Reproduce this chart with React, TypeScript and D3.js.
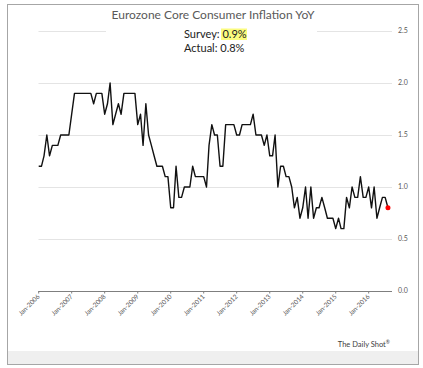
import React, { useEffect, useRef } from "react";
import * as d3 from "d3";

const width = 423;
const height = 368;
const plotLeft = 38.5;
const plotRight = 392;
const yTop = 31;
const yBottom = 291;

const title = "Eurozone Core Consumer Inflation YoY";
const surveyValue = "0.9%";
const actualValue = "0.8%";

// monthly, Jan-2006 .. Aug-2016
const coreYoY = [
  1.2, 1.2, 1.3, 1.5, 1.3, 1.4, 1.4, 1.4, 1.5, 1.5, 1.5, 1.5,
  1.7, 1.9, 1.9, 1.9, 1.9, 1.9, 1.9, 1.9, 1.8, 1.9, 1.9, 1.9,
  1.7, 1.8, 2.0, 1.6, 1.7, 1.8, 1.7, 1.9, 1.9, 1.9, 1.9, 1.9,
  1.6, 1.7, 1.4, 1.8, 1.5, 1.4, 1.3, 1.2, 1.2, 1.2, 1.1, 1.1,
  0.8, 0.8, 1.2, 0.9, 0.9, 1.0, 1.0, 1.0, 1.2, 1.1, 1.1, 1.1,
  1.1, 1.0, 1.4, 1.6, 1.5, 1.5, 1.2, 1.2, 1.6, 1.6, 1.6, 1.6,
  1.5, 1.5, 1.6, 1.6, 1.6, 1.6, 1.7, 1.5, 1.5, 1.5, 1.4, 1.5,
  1.3, 1.3, 1.5, 1.0, 1.2, 1.2, 1.1, 1.1, 1.0, 0.8, 0.9, 0.7,
  0.8, 1.0, 0.7, 1.0, 0.7, 0.8, 0.8, 0.9, 0.8, 0.7, 0.7, 0.7,
  0.6, 0.7, 0.6, 0.6, 0.9, 0.8, 1.0, 0.9, 0.9, 1.1, 0.9, 0.9,
  1.0, 0.8, 1.0, 0.7, 0.8, 0.9, 0.9, 0.8,
];
const startYear = 2006;
const tickYears = [2006, 2007, 2008, 2009, 2010, 2011, 2012, 2013, 2014, 2015, 2016];
const yTicks = [0, 0.5, 1.0, 1.5, 2.0, 2.5];

export default function App() {
  const ref = useRef<SVGSVGElement>(null);

  useEffect(() => {
    const svg = d3.select(ref.current);
    svg.selectAll("*").remove();

    const data = coreYoY.map((v, i) => ({ date: new Date(startYear, i, 1), value: v }));

    const x = d3
      .scaleTime()
      .domain([new Date(2006, 0, 1), new Date(2016, 0, 1)])
      .range([38.7, 368.7]);
    const y = d3.scaleLinear().domain([0, 2.5]).range([yBottom, yTop]);

    // frame
    svg.append("rect").attr("width", width).attr("height", height).attr("fill", "#fff");
    svg
      .append("rect")
      .attr("x", 8)
      .attr("y", 351)
      .attr("width", 410.5)
      .attr("height", 13)
      .attr("fill", "#efefef");
    svg
      .append("rect")
      .attr("x", 7.5)
      .attr("y", 4.5)
      .attr("width", 411)
      .attr("height", 360)
      .attr("fill", "none")
      .attr("stroke", "#a6a6a6");

    // gridlines + right labels
    const grid = svg.append("g");
    grid
      .selectAll("line")
      .data(yTicks.filter(d => d > 0))
      .join("line")
      .attr("x1", plotLeft)
      .attr("x2", plotRight)
      .attr("y1", d => Math.round(y(d)) + 0.5)
      .attr("y2", d => Math.round(y(d)) + 0.5)
      .attr("stroke", "#e4e4e4")
      .attr("stroke-width", 1.2);

    svg
      .append("g")
      .attr("font-family", "Lato, sans-serif")
      .attr("font-size", 7)
      .attr("fill", "#595959")
      .selectAll("text")
      .data(yTicks)
      .join("text")
      .attr("x", 398)
      .attr("y", d => y(d))
      .attr("dy", "0.35em")
      .text(d => d3.format(".1f")(d));

    // x axis
    const ax = svg.append("g");
    ax.append("line")
      .attr("x1", plotLeft)
      .attr("x2", plotRight)
      .attr("y1", yBottom + 0.5)
      .attr("y2", yBottom + 0.5)
      .attr("stroke", "#7f7f7f")
      .attr("stroke-width", 1.2);
    const ticks = tickYears.map(yr => new Date(yr, 0, 1));
    ax.selectAll(".tk")
      .data(ticks)
      .join("line")
      .attr("class", "tk")
      .attr("x1", d => x(d))
      .attr("x2", d => x(d))
      .attr("y1", yBottom)
      .attr("y2", yBottom + 2.5)
      .attr("stroke", "#7f7f7f");
    ax.selectAll("text")
      .data(ticks)
      .join("text")
      .attr("transform", d => `translate(${x(d) + 1.5},${yBottom + 6}) rotate(-45)`)
      .attr("text-anchor", "end")
      .attr("font-family", "Lato, sans-serif")
      .attr("font-size", 6.5)
      .attr("fill", "#595959")
      .text(d => d3.timeFormat("Jan-%Y")(d));

    // title box
    svg
      .append("rect")
      .attr("x", 106)
      .attr("y", 24)
      .attr("width", 211)
      .attr("height", 34)
      .attr("fill", "#fff");
    svg
      .append("text")
      .attr("x", 213)
      .attr("y", 19)
      .attr("text-anchor", "middle")
      .attr("font-family", "Lato, sans-serif")
      .attr("font-size", 12)
      .attr("fill", "#595959")
      .text(title);

    svg
      .append("rect")
      .attr("x", 221)
      .attr("y", 28.5)
      .attr("width", 26)
      .attr("height", 11.5)
      .attr("fill", "#fbfb7e");
    const info = svg
      .append("g")
      .attr("font-family", "Lato, sans-serif")
      .attr("font-size", 11)
      .attr("fill", "#222");
    info.append("text").attr("x", 184).attr("y", 37.5).text(`Survey: ${surveyValue}`);
    info.append("text").attr("x", 184).attr("y", 52).text(`Actual:  ${actualValue}`);

    // series
    svg
      .append("path")
      .datum(data)
      .attr("fill", "none")
      .attr("stroke", "#111")
      .attr("stroke-width", 1.4)
      .attr("stroke-linejoin", "round")
      .attr(
        "d",
        d3
          .line<{ date: Date; value: number }>()
          .x(d => x(d.date))
          .y(d => y(d.value))
      );

    const last = data[data.length - 1];
    svg
      .append("circle")
      .attr("cx", x(last.date))
      .attr("cy", y(last.value))
      .attr("r", 2.5)
      .attr("fill", "#ff0000");

    // source
    const src = svg
      .append("text")
      .attr("x", 390)
      .attr("y", 347)
      .attr("text-anchor", "end")
      .attr("font-family", "Lato, sans-serif")
      .attr("font-size", 7.5)
      .attr("fill", "#404040");
    src.append("tspan").text("The Daily Shot");
    src.append("tspan").attr("font-size", 5).attr("dy", -3).text("®");
  }, []);

  return (
    <svg
      ref={ref}
      width={width}
      height={height}
      viewBox={`0 0 ${width} ${height}`}
      style={{ position: "absolute", left: 0, top: 0 }}
    ></svg>
  );
}
